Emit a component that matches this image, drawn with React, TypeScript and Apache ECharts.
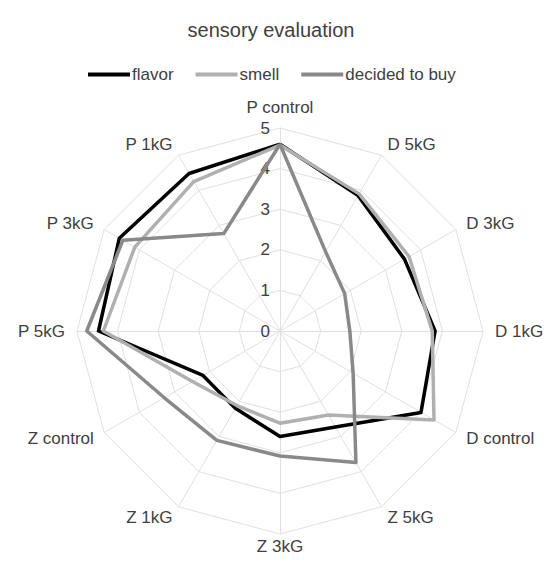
import React, { useEffect, useRef } from "react";
import * as echarts from "echarts";

// indicators listed counter-clockwise from the top (ECharts radar order)
const indicators = [
  "P control", "P 1kG", "P 3kG", "P 5kG", "Z control", "Z 1kG",
  "Z 3kG", "Z 5kG", "D control", "D 1kG", "D 3kG", "D 5kG",
];
const flavor = [4.6, 4.48, 4.57, 4.47, 2.19, 2.2, 2.6, 2.73, 4.01, 3.82, 3.54, 3.85];
const smell = [4.58, 4.25, 4.13, 4.35, 2.49, 2.12, 2.27, 2.39, 4.38, 3.75, 3.67, 3.9];
const decided = [4.6, 2.77, 4.47, 4.76, 3.29, 3.11, 3.08, 3.74, 2.08, 1.72, 1.84, 2.25];
const seriesNames = ["flavor", "smell", "decided to buy"];
const colors = ["#000000", "#b0b0b0", "#898989"];

const FONT = "Liberation Sans";
const TXT = "#404040";

export default function App() {
  const ref = useRef<HTMLDivElement>(null);
  useEffect(() => {
    const chart = echarts.init(ref.current!, undefined, { renderer: "svg" });
    const data = [flavor, smell, decided];
    chart.setOption({
      animation: false,
      backgroundColor: "#ffffff",
      title: {
        text: "sensory evaluation",
        left: 266,
        textAlign: "center",
        top: 15,
        textStyle: { color: TXT, fontSize: 20, fontWeight: "normal", fontFamily: FONT },
      },
      legend: {
        left: 83,
        top: 61,
        itemWidth: 42,
        itemHeight: 4,
        itemGap: 22,
        icon: "rect",
        data: seriesNames,
        textStyle: { color: TXT, fontSize: 17, fontFamily: FONT, padding: [0, 0, 0, -3] },
      },
      radar: {
        center: [280, 331],
        radius: 203,
        startAngle: 90,
        splitNumber: 5,
        shape: "polygon",
        nameGap: 12,
        axisName: { color: TXT, fontSize: 17, fontFamily: FONT },
        splitLine: { lineStyle: { color: "#e0e0e0", width: 1 } },
        splitArea: { show: false },
        axisLine: { lineStyle: { color: "#e0e0e0", width: 1 } },
        axisTick: { show: false },
        axisLabel: { show: false },
        indicator: indicators.map((n, i) => ({
          name: n,
          min: 0,
          max: 5,
          ...(i === 0
            ? { axisLabel: { show: true, color: TXT, fontSize: 17, fontFamily: FONT, margin: 10 } }
            : {}),
          ...(n === "Z 3kG" ? { nameGap: 4 } : {}),
        })),
      },
      series: [
        {
          type: "radar",
          symbol: "none",
          data: data.map((d, i) => ({
            name: seriesNames[i],
            value: d,
            lineStyle: { color: colors[i], width: 3.5 },
            itemStyle: { color: colors[i] },
          })),
        },
      ],
    });
    return () => chart.dispose();
  }, []);
  return (
    <div
      ref={ref}
      style={{ position: "fixed", left: 0, top: 0, width: 550, height: 561 }}
    />
  );
}
